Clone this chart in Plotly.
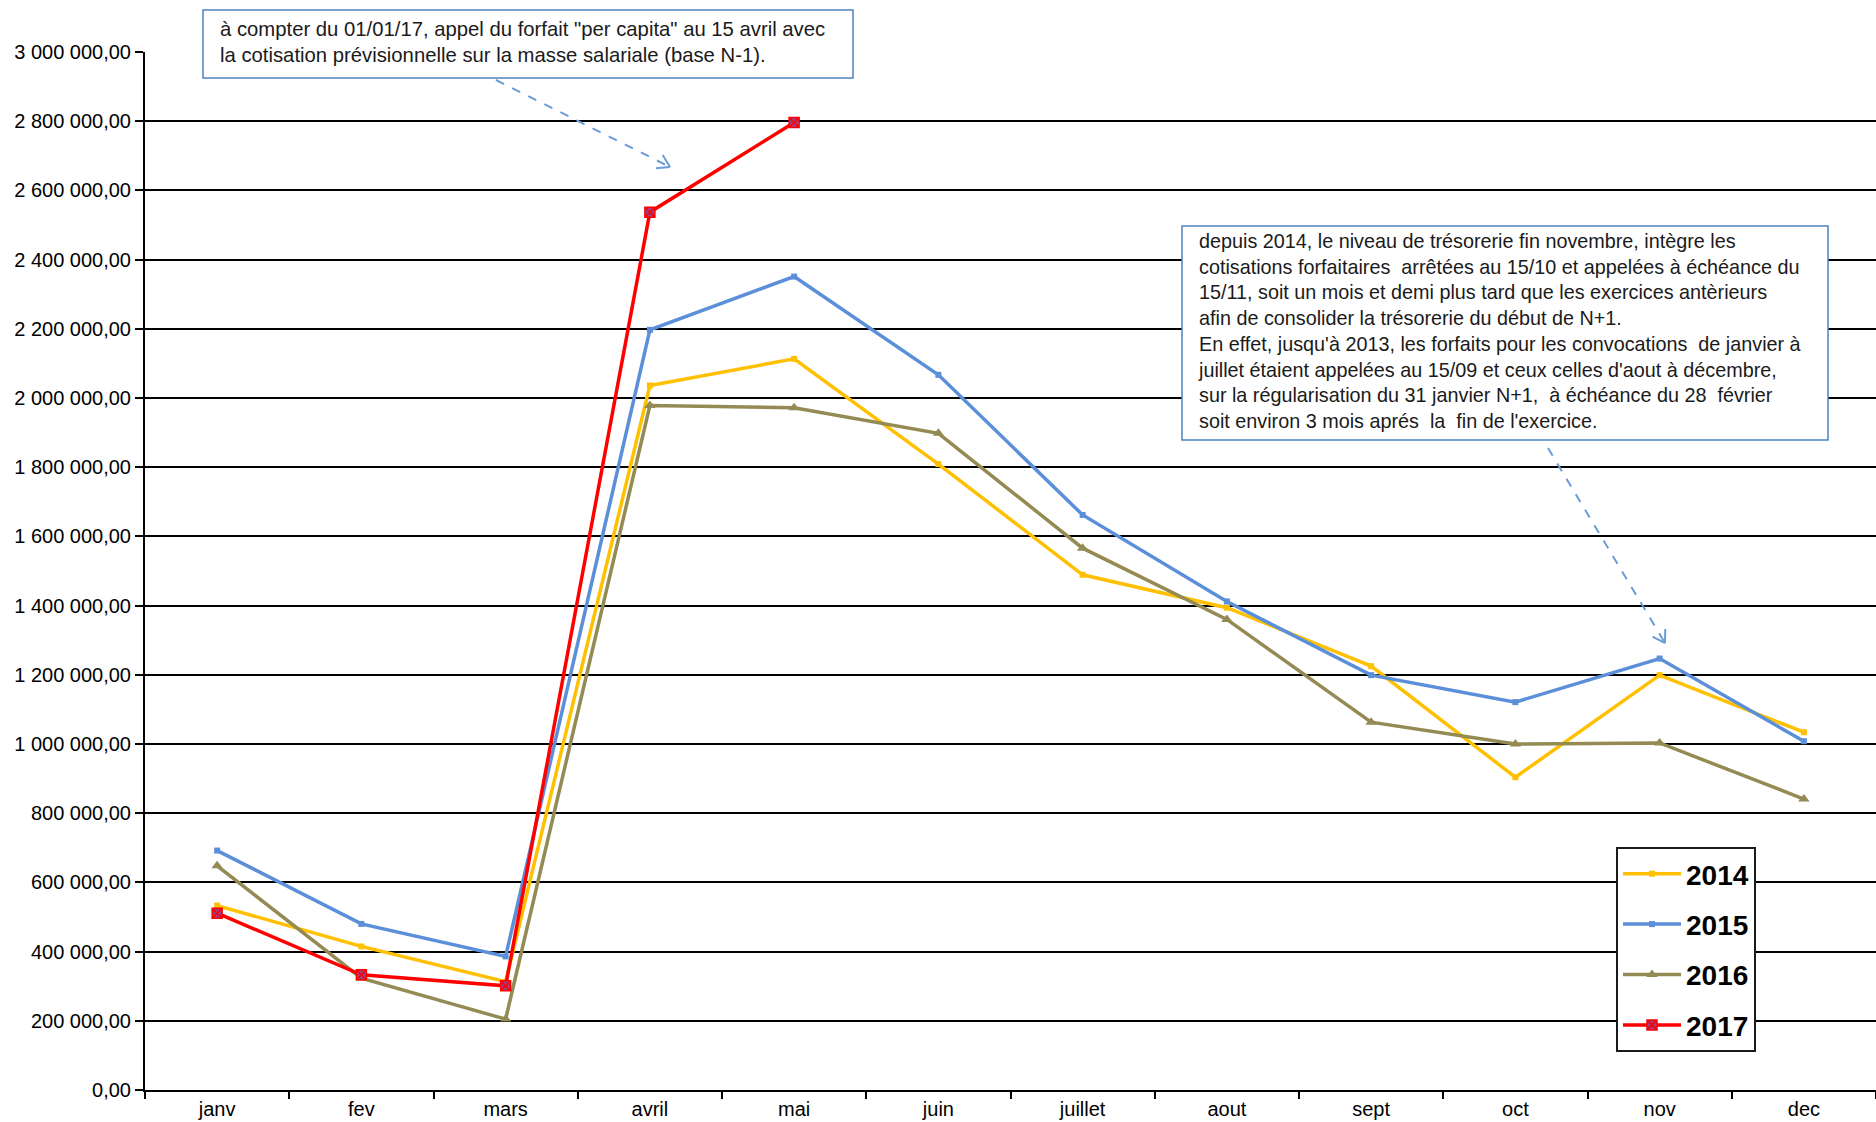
import math
import plotly.graph_objects as go

# ---------------- data ----------------
months = ["janv", "fev", "mars", "avril", "mai", "juin", "juillet", "aout",
          "sept", "oct", "nov", "dec"]
v2014 = [533000, 415000, 313000, 2036000, 2113000, 1809000, 1489000, 1394000,
         1225000, 904000, 1199000, 1034000]
v2015 = [692000, 480000, 386000, 2197000, 2351000, 2067000, 1662000, 1412000,
         1199000, 1121000, 1247000, 1008000]
v2016 = [648000, 323000, 205000, 1978000, 1972000, 1898000, 1566000, 1360000,
         1063000, 1000000, 1003000, 841000]
v2017 = [511000, 333000, 301000, 2537000, 2796000]
series_names = ["2014", "2015", "2016", "2017"]
ytick_vals = [0, 200000, 400000, 600000, 800000, 1000000, 1200000, 1400000,
              1600000, 1800000, 2000000, 2200000, 2400000, 2600000, 2800000, 3000000]
ytick_text = ["0,00", "200 000,00", "400 000,00", "600 000,00", "800 000,00",
              "1 000 000,00", "1 200 000,00", "1 400 000,00", "1 600 000,00",
              "1 800 000,00", "2 000 000,00", "2 200 000,00", "2 400 000,00",
              "2 600 000,00", "2 800 000,00", "3 000 000,00"]
note1 = ("à compter du 01/01/17, appel du forfait \"per capita\" au 15 avril avec<br>"
         "la cotisation prévisionnelle sur la masse salariale (base N-1).")
note2 = ("depuis 2014, le niveau de trésorerie fin novembre, intègre les<br>"
         "cotisations forfaitaires  arrêtées au 15/10 et appelées à échéance du<br>"
         "15/11, soit un mois et demi plus tard que les exercices antèrieurs<br>"
         "afin de consolider la trésorerie du début de N+1.<br>"
         "En effet, jusqu'à 2013, les forfaits pour les convocations  de janvier à<br>"
         "juillet étaient appelées au 15/09 et ceux celles d'aout à décembre,<br>"
         "sur la régularisation du 31 janvier N+1,  à échéance du 28  février<br>"
         "soit environ 3 mois aprés  la  fin de l'exercice.")

# ---------------- layout geometry (pixels) ----------------
W, H = 1876, 1122
L, R, T, B = 145, 0, 52, 32
PW, PH = W - L - R, H - T - B


def px(x):
    return (x - L) / PW


def py(y):
    return (H - B - y) / PH


SANS = "Liberation Sans, Arial, sans-serif"

fig = go.Figure()
styles = [
    dict(color="#FFC000", symbol="square", size=6),
    dict(color="#5B8FD9", symbol="square", size=6),
    dict(color="#948A54", symbol="triangle-up", size=10),
    dict(color="#FF0000", symbol="square-x", size=10),
]
data = [v2014, v2015, v2016, v2017]
for name, vals, st in zip(series_names, data, styles):
    mk = dict(symbol=st["symbol"], size=st["size"], color=st["color"])
    if name == "2017":
        mk = dict(symbol="square-x", size=10, color="#9B3F86",
                  line=dict(color="#FF0000", width=1.5))
    fig.add_trace(go.Scatter(
        x=months[:len(vals)], y=vals, name=name, mode="lines+markers",
        line=dict(color=st["color"], width=3.5), marker=mk,
        legendgroup=name,
    ))

shapes = []
# note boxes
shapes.append(dict(type="rect", xref="paper", yref="paper",
                   x0=px(203), x1=px(853), y0=py(78), y1=py(10),
                   line=dict(color="#4F81BD", width=1.5), fillcolor="white",
                   layer="above"))
shapes.append(dict(type="rect", xref="paper", yref="paper",
                   x0=px(1182), x1=px(1828), y0=py(440), y1=py(226),
                   line=dict(color="#4F81BD", width=1.5), fillcolor="white",
                   layer="above"))


def dashed_arrow(x0, y0, x1, y1):
    shapes.append(dict(type="line", xref="paper", yref="paper",
                       x0=px(x0), y0=py(y0), x1=px(x1), y1=py(y1),
                       line=dict(color="#6C9BDA", width=2, dash="dash"),
                       layer="above"))
    ang = math.atan2(y1 - y0, x1 - x0)
    for s in (1, -1):
        a = ang + math.pi - s * math.radians(32)
        hx, hy = x1 + 14 * math.cos(a), y1 + 14 * math.sin(a)
        shapes.append(dict(type="line", xref="paper", yref="paper",
                           x0=px(hx), y0=py(hy), x1=px(x1), y1=py(y1),
                           line=dict(color="#6C9BDA", width=2),
                           layer="above"))


dashed_arrow(496, 80, 670, 167)
dashed_arrow(1548, 448, 1665, 643)

annotations = [
    dict(text=note1, xref="paper", yref="paper", x=px(218), y=py(42),
         xanchor="left", yanchor="middle", align="left", showarrow=False,
         font=dict(family=SANS, size=20.3, color="#1a1a1a")),
    dict(text=note2, xref="paper", yref="paper", x=px(1196), y=py(331),
         xanchor="left", yanchor="middle", align="left", showarrow=False,
         font=dict(family=SANS, size=19.8, color="#1a1a1a")),
]

fig.update_layout(
    width=W, height=H,
    margin=dict(l=L, r=R, t=T, b=B, autoexpand=False),
    paper_bgcolor="white", plot_bgcolor="white",
    showlegend=True,
    legend=dict(x=px(1616), y=py(847), xanchor="left", yanchor="top",
                bgcolor="white", bordercolor="#1a1a1a", borderwidth=2,
                font=dict(family=SANS, size=28, color="black", weight="bold"),
                tracegroupgap=11, traceorder="grouped", itemwidth=58),
    shapes=shapes, annotations=annotations,
    xaxis=dict(type="category", categoryorder="array", categoryarray=months,
               range=[-0.5, 11.5], tickson="boundaries", ticks="outside",
               ticklen=7, tickwidth=1.5, tickcolor="black",
               showline=True, linecolor="black", linewidth=2,
               showgrid=False, zeroline=False,
               tickfont=dict(family=SANS, size=20, color="black")),
    yaxis=dict(range=[0, 3000000], tickvals=ytick_vals, ticktext=ytick_text,
               ticks="outside", ticklen=8, tickwidth=1.5, tickcolor="black",
               showline=True, linecolor="black", linewidth=2,
               showgrid=True, gridcolor="black", gridwidth=2,
               zeroline=False,
               tickfont=dict(family=SANS, size=20, color="black")),
)

fig.write_html("out.html",
               config={"displayModeBar": False},
               post_script="document.body.style.margin='0';"
                           "document.body.style.overflow='hidden';")
